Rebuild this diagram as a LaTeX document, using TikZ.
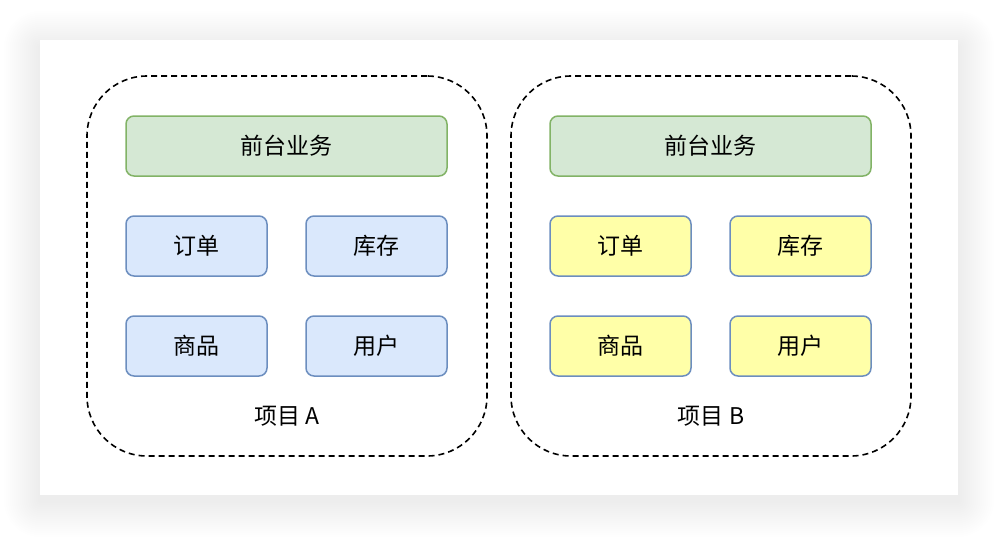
\documentclass[tikz,border=0pt]{standalone}
\usepackage{fontspec}
\setmainfont{Noto Sans CJK SC}
\usetikzlibrary{positioning}

\definecolor{greenfill}{HTML}{D5E8D4}
\definecolor{greenline}{HTML}{82B366}
\definecolor{bluefill}{HTML}{DAE8FC}
\definecolor{blueline}{HTML}{6C8EBF}
\definecolor{yellowfill}{HTML}{FFFFA8}

\tikzset{
  project/.style={draw=black, line width=1.6pt, dash pattern=on 6pt off 4pt,
    rounded corners=60pt, minimum width=400pt, minimum height=380pt, inner sep=0pt},
  front/.style={draw=greenline, fill=greenfill, line width=1.5pt, rounded corners=8pt,
    minimum width=321pt, minimum height=60pt, inner sep=0pt, font=\fontsize{23}{27}\selectfont},
  module/.style={draw=blueline, fill=#1, line width=1.5pt, rounded corners=8pt,
    minimum width=141pt, minimum height=60pt, inner sep=0pt, font=\fontsize{23}{27}\selectfont},
  caption/.style={inner sep=0pt, font=\fontsize{23}{27}\selectfont},
}

\begin{document}
\begin{tikzpicture}[x=1pt, y=-1pt]
  \useasboundingbox (0,0) rectangle (998,536);

  % soft shadow round the card
  \foreach \k in {2,4,...,36}
    \fill[black, opacity=0.003, rounded corners=\k pt]
      (40-\k,47-\k) rectangle (958+\k,501+\k);
  \fill[white] (40,40) rectangle (958,495);

  % project A
  \node[project] (projA) at (287,266) {};
  \node[front] (frontA) at (286.5,146) {前台业务};
  \node[module=bluefill] (orderA) at (196.5,246) {订单};
  \node[module=bluefill] (stockA) at (376.5,246) {库存};
  \node[module=bluefill] (goodsA) at (196.5,346) {商品};
  \node[module=bluefill] (userA) at (376.5,346) {用户};
  \node[caption] (labelA) at (287,416) {项目 A};

  % project B
  \node[project] (projB) at (711,266) {};
  \node[front] (frontB) at (710.5,146) {前台业务};
  \node[module=yellowfill] (orderB) at (620.5,246) {订单};
  \node[module=yellowfill] (stockB) at (800.5,246) {库存};
  \node[module=yellowfill] (goodsB) at (620.5,346) {商品};
  \node[module=yellowfill] (userB) at (800.5,346) {用户};
  \node[caption] (labelB) at (711,416) {项目 B};
\end{tikzpicture}
\end{document}
